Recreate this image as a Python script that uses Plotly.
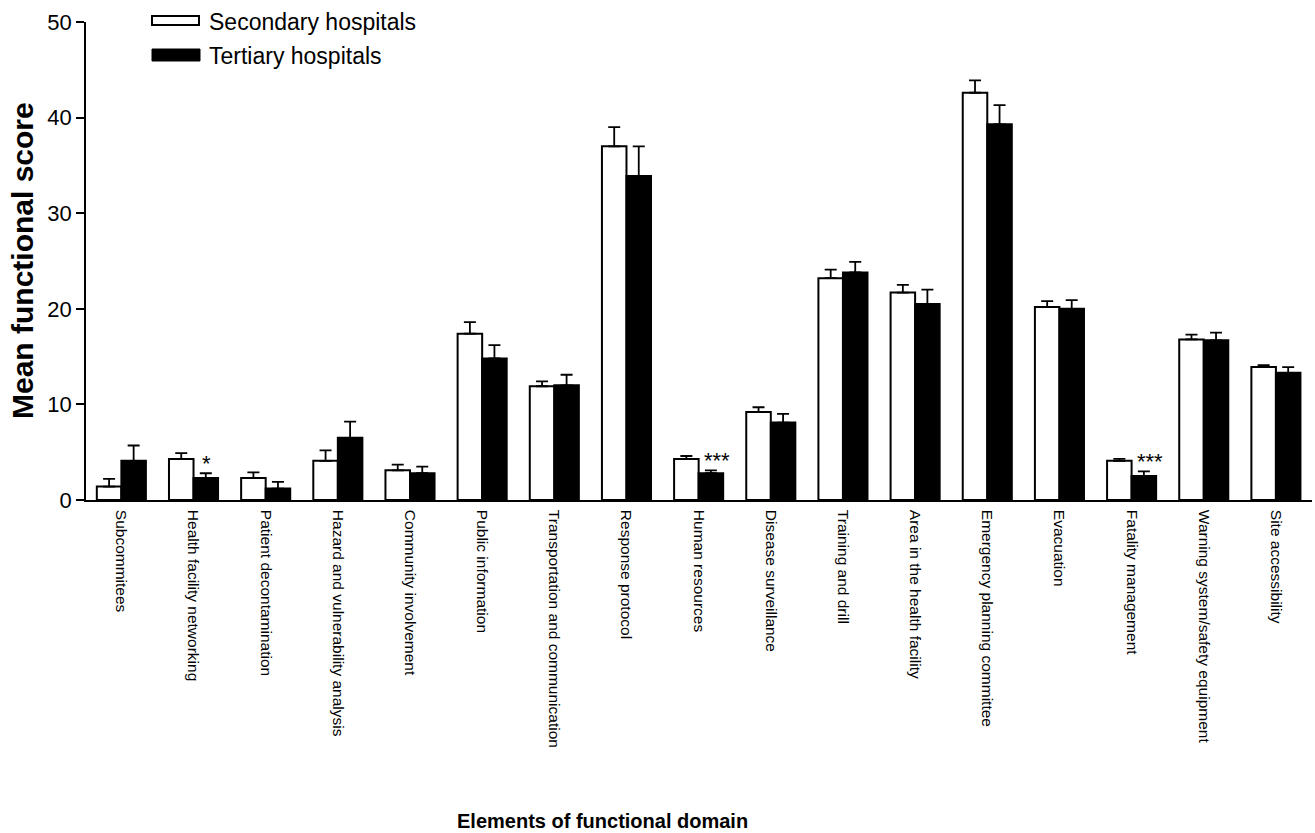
import plotly.graph_objects as go

# Functional-domain elements and mean scores (with upper SEM) by hospital level
categories = [
    "Subcommitees", "Health facility networking", "Patient decontamination",
    "Hazard and vulnerability analysis", "Community involvement", "Public information",
    "Transportation and communication", "Response protocol", "Human resources",
    "Disease surveillance", "Training and drill", "Area in the health facility",
    "Emergency planning committee", "Evacuation", "Fatality management",
    "Warning system/safety equipment", "Site accessibility",
]
secondary_mean = [1.4, 4.3, 2.3, 4.1, 3.1, 17.4, 11.9, 37.0, 4.3, 9.2, 23.2, 21.7,
                  42.6, 20.2, 4.1, 16.8, 13.9]
secondary_sem = [0.8, 0.6, 0.6, 1.1, 0.6, 1.2, 0.5, 2.0, 0.3, 0.5, 0.9, 0.8,
                 1.3, 0.6, 0.2, 0.5, 0.2]
tertiary_mean = [4.1, 2.3, 1.2, 6.5, 2.8, 14.8, 12.0, 33.9, 2.8, 8.1, 23.8, 20.5,
                 39.3, 20.0, 2.5, 16.7, 13.3]
tertiary_sem = [1.6, 0.5, 0.7, 1.7, 0.7, 1.4, 1.1, 3.1, 0.3, 0.9, 1.1, 1.5,
                2.0, 0.9, 0.5, 0.8, 0.6]

# Significance markers placed over the tertiary bars
sig_labels = {"Health facility networking": "*", "Human resources": "***",
              "Fatality management": "***"}

y_ticks = [0, 10, 20, 30, 40, 50]

FONT = "Liberation Sans, Arial, sans-serif"
W, H = 1315, 833
L, R, T, B = 86, 3, 22, 333
pw, ph = W - L - R, H - T - B


def px_x(px):
    return (px - L) / pw


def px_y(py):
    return (H - B - py) / ph


fig = go.Figure()
fig.add_trace(go.Bar(
    x=categories, y=secondary_mean, name="Secondary hospitals",
    marker=dict(color="white", line=dict(color="black", width=2)),
    error_y=dict(type="data", symmetric=False, array=secondary_sem,
                 arrayminus=[0] * len(categories), color="black",
                 thickness=1.8, width=6),
    showlegend=False,
))
fig.add_trace(go.Bar(
    x=categories, y=tertiary_mean, name="Tertiary hospitals",
    marker=dict(color="black", line=dict(color="black", width=2)),
    error_y=dict(type="data", symmetric=False, array=tertiary_sem,
                 arrayminus=[0] * len(categories), color="black",
                 thickness=1.8, width=6),
    showlegend=False,
))

annotations = []
for cat, label in sig_labels.items():
    i = categories.index(cat)
    top = tertiary_mean[i] + tertiary_sem[i]
    annotations.append(dict(
        x=cat, y=top, xref="x", yref="y", text=label, showarrow=False,
        xanchor="center", yanchor="bottom",
        xshift=13 if len(label) == 1 else 18, yshift=-5,
        font=dict(family=FONT, size=22, color="black"),
    ))

# Axis titles
annotations.append(dict(
    x=px_x(602), y=px_y(821), xref="paper", yref="paper",
    text="<b>Elements of functional domain</b>", showarrow=False,
    xanchor="center", yanchor="middle",
    font=dict(family=FONT, size=20, color="black"),
))
annotations.append(dict(
    x=px_x(22), y=px_y(261), xref="paper", yref="paper",
    text="<b>Mean functional score</b>", showarrow=False, textangle=-90,
    xanchor="center", yanchor="middle",
    font=dict(family=FONT, size=30, color="black"),
))

# Legend drawn with wide rectangular swatches
shapes = [
    dict(type="rect", xref="paper", yref="paper",
         x0=px_x(152), x1=px_x(199), y0=px_y(25), y1=px_y(16),
         fillcolor="white", line=dict(color="black", width=2)),
    dict(type="rect", xref="paper", yref="paper",
         x0=px_x(152), x1=px_x(200), y0=px_y(61), y1=px_y(49),
         fillcolor="black", line=dict(color="black", width=1)),
]
annotations.append(dict(
    x=px_x(207), y=px_y(22), xref="paper", yref="paper",
    text="Secondary hospitals", showarrow=False, xanchor="left", yanchor="middle",
    font=dict(family=FONT, size=23, color="black"),
))
annotations.append(dict(
    x=px_x(207), y=px_y(56), xref="paper", yref="paper",
    text="Tertiary hospitals", showarrow=False, xanchor="left", yanchor="middle",
    font=dict(family=FONT, size=23, color="black"),
))

fig.update_layout(
    width=W, height=H,
    margin=dict(l=L, r=R, t=T, b=B),
    paper_bgcolor="white", plot_bgcolor="white",
    barmode="group", bargap=0.32, bargroupgap=0,
    font=dict(family=FONT, color="black"),
    annotations=annotations, shapes=shapes,
)
fig.update_xaxes(
    range=[-0.49, 16.5], showline=True, linecolor="black", linewidth=1.5,
    ticks="", tickangle=90, showgrid=False, zeroline=False,
    tickfont=dict(family=FONT, size=15.5, color="black"),
    ticklabelstandoff=5,
)
fig.update_yaxes(
    range=[0, 50], tickvals=y_ticks, showline=True, linecolor="black",
    linewidth=1.5, ticks="outside", ticklen=8, tickwidth=1.5, tickcolor="black",
    showgrid=False, zeroline=False,
    tickfont=dict(family=FONT, size=22, color="black"),
)

fig.write_html("out.html")
